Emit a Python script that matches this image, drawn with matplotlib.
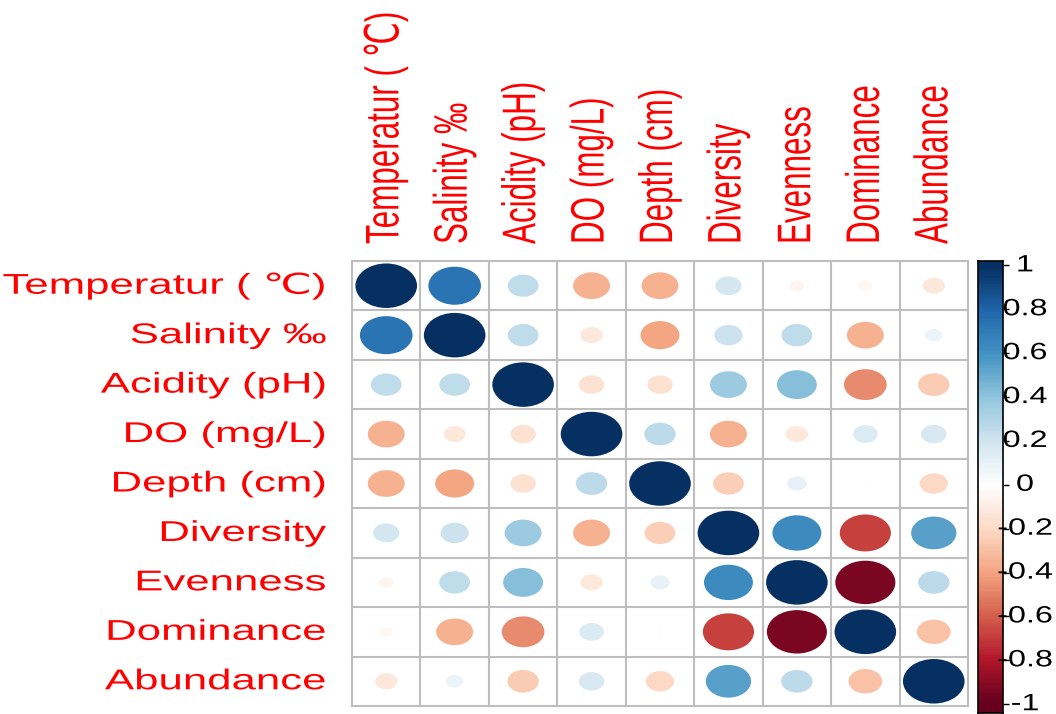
import numpy as np
import matplotlib
matplotlib.use("Agg")
import matplotlib.pyplot as plt
from matplotlib.colors import LinearSegmentedColormap, Normalize
from matplotlib.patches import Ellipse
from matplotlib.patheffects import AbstractPathEffect
from matplotlib.transforms import Affine2D, blended_transform_factory

# ---- data -------------------------------------------------------------
variables = ["Temperatur ( ℃)", "Salinity ‰", "Acidity (pH)", "DO (mg/L)",
             "Depth (cm)", "Diversity", "Evenness", "Dominance", "Abundance"]

temperatur = [1.00, 0.73, 0.25, -0.36, -0.36, 0.18, -0.06, -0.05, -0.13]
salinity   = [0.73, 1.00, 0.25, -0.13, -0.40, 0.21, 0.25, -0.36, 0.08]
acidity    = [0.25, 0.25, 1.00, -0.17, -0.17, 0.36, 0.42, -0.48, -0.26]
do_mgl     = [-0.36, -0.13, -0.17, 1.00, 0.26, -0.36, -0.13, 0.16, 0.17]
depth      = [-0.36, -0.40, -0.17, 0.26, 1.00, -0.25, 0.10, 0.01, -0.21]
diversity  = [0.18, 0.21, 0.36, -0.36, -0.25, 1.00, 0.63, -0.69, 0.54]
evenness   = [-0.06, 0.25, 0.42, -0.13, 0.10, 0.63, 1.00, -0.95, 0.26]
dominance  = [-0.05, -0.36, -0.48, 0.16, 0.01, -0.69, -0.95, 1.00, -0.30]
abundance  = [-0.13, 0.08, -0.26, 0.17, -0.21, 0.54, 0.26, -0.30, 1.00]

colorbar_ticks = [1, 0.8, 0.6, 0.4, 0.2, 0, -0.2, -0.4, -0.6, -0.8, -1]
colorbar_labels = ["1", "0.8", "0.6", "0.4", "0.2", "0",
                   "-0.2", "-0.4", "-0.6", "-0.8", "-1"]

corr = np.array([temperatur, salinity, acidity, do_mgl, depth,
                 diversity, evenness, dominance, abundance])

# ---- style ------------------------------------------------------------
FONT = ["Liberation Sans", "DejaVu Sans"]
plt.rcParams["font.family"] = FONT

rdbu = ["#67001F", "#B2182B", "#D6604D", "#F4A582", "#FDDBC7", "#FFFFFF",
        "#D1E5F0", "#92C5DE", "#4393C3", "#2166AC", "#053061"]
cmap = LinearSegmentedColormap.from_list("corr_rdbu", rdbu, N=200)
norm = Normalize(-1, 1)
GRID_COL = "#BEBEBE"
LABEL_COL = "#FF0000"


class StretchX(AbstractPathEffect):
    """Widen glyphs horizontally around a chosen edge of the text."""

    def __init__(self, factor, anchor="center"):
        super().__init__()
        self.factor = factor
        self.anchor = anchor

    def draw_path(self, renderer, gc, tpath, affine, rgbFace=None):
        ext = tpath.get_extents(affine)
        if self.anchor == "right":
            x0 = ext.x1
        elif self.anchor == "left":
            x0 = ext.x0
        else:
            x0 = 0.5 * (ext.x0 + ext.x1)
        aff = affine + Affine2D().translate(-x0, 0).scale(self.factor, 1).translate(x0, 0)
        renderer.draw_path(gc, tpath, aff, rgbFace)


W, H, DPI = 1056, 714, 100
fig = plt.figure(figsize=(W / DPI, H / DPI), dpi=DPI)
fig.patch.set_facecolor("white")


def fx(px):
    return px / W


def fy(py):
    return 1 - py / H


# ---- correlation grid ----------------------------------------------------
gl, gr, gt, gb = 352, 968, 261, 706
ax = fig.add_axes([fx(gl), fy(gb), (gr - gl) / W, (gb - gt) / H])
n = len(variables)
ax.set_xlim(0.5, n + 0.5)
ax.set_ylim(n + 0.5, 0.5)
ax.axis("off")

for i in range(n):
    for j in range(n):
        r = corr[i, j]
        d = 0.9 * np.sqrt(abs(r))
        ax.add_patch(Ellipse((j + 1, i + 1), d, d, facecolor=cmap(norm(r)),
                             edgecolor="none", zorder=2))

for k in range(n + 1):
    ax.plot([k + 0.5, k + 0.5], [0.5, n + 0.5], color=GRID_COL, lw=1.5,
            clip_on=False, zorder=1, solid_capstyle="projecting")
    ax.plot([0.5, n + 0.5], [k + 0.5, k + 0.5], color=GRID_COL, lw=1.5,
            clip_on=False, zorder=1, solid_capstyle="projecting")

# row labels on the left
row_tr = blended_transform_factory(fig.transFigure, ax.transData)
for i, lab in enumerate(variables):
    fig.text(fx(326), i + 1, lab, transform=row_tr, ha="right", va="center",
             fontsize=20.6, color=LABEL_COL,
             path_effects=[StretchX(1.53, "right")])

# column labels on top
col_tr = blended_transform_factory(ax.transData, fig.transFigure)
for j, lab in enumerate(variables):
    fig.text(j + 1, fy(244), lab, transform=col_tr, ha="center", va="bottom",
             rotation=90, fontsize=22.6, color=LABEL_COL,
             path_effects=[StretchX(1.5, "center")])

# ---- colour legend ---------------------------------------------------------
ct, cbm = 261, 713
lo, hi = -1.04, 1.02
cax = fig.add_axes([fx(978), fy(cbm), 25 / W, (cbm - ct) / H])
grad = np.linspace(lo, hi, 240).reshape(-1, 1)
cax.imshow(grad, cmap=cmap, norm=norm, aspect="auto", origin="lower",
           extent=[0, 1, lo, hi], interpolation="nearest")
cax.set_xlim(0, 1)
cax.set_ylim(lo, hi)
cax.set_xticks([])
cax.yaxis.tick_right()
cax.set_yticks(colorbar_ticks)
cax.set_yticklabels([])
cax.tick_params(axis="y", length=4, width=1, color="black", direction="out")
for s in cax.spines.values():
    s.set_color("black")
    s.set_linewidth(1.2)

cb_tr = blended_transform_factory(fig.transFigure, cax.transData)
for v, lab in zip(colorbar_ticks, colorbar_labels):
    fig.text(fx(1025), v, lab, transform=cb_tr, ha="center", va="center",
             fontsize=17, color="black",
             path_effects=[StretchX(1.37, "center")])

fig.savefig("out.png", dpi=DPI, facecolor="white")
